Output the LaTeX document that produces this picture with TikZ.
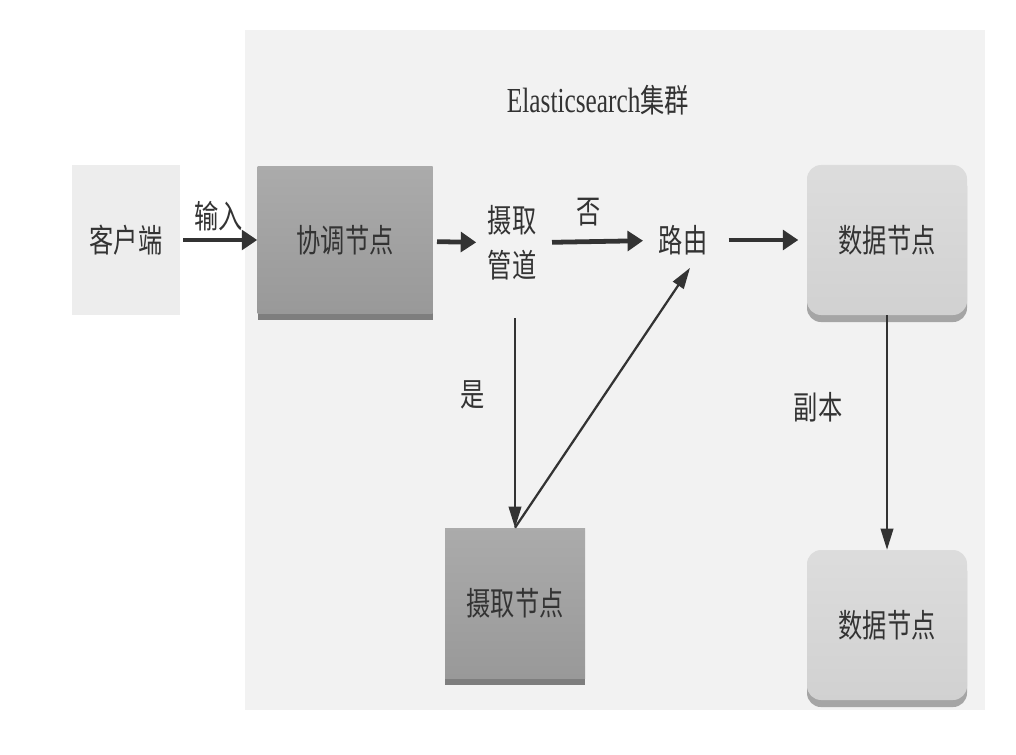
\documentclass[tikz,border=0pt]{standalone}
\usepackage{fontspec}
\setmainfont[FakeStretch=0.72]{Liberation Serif}
\newfontfamily\cjk[FakeStretch=0.75]{Noto Sans CJK SC}
\usetikzlibrary{arrows.meta,shadows}

\definecolor{clusterbg}{HTML}{F2F2F2}
\definecolor{clientbg}{HTML}{EDEDED}
\definecolor{txt}{HTML}{333333}

\tikzset{
    lbl/.style={font=\cjk\fontsize{23}{32}\selectfont, text=txt, inner sep=1pt},
    darkbox/.style={lbl, rectangle, top color=gray!66, bottom color=gray!80,
        drop shadow={shadow xshift=0pt, shadow yshift=-5pt, fill=black!75, opacity=0.65}},
    databox/.style={lbl, rectangle, rounded corners=10pt, top color=gray!27, bottom color=gray!36,
        drop shadow={shadow xshift=0pt, shadow yshift=-5pt, fill=black!60, opacity=0.55}},
    fat/.style={line width=3.4pt, txt, -{Triangle[length=11pt, width=14pt]}},
    thin/.style={line width=1.3pt, txt, -{Triangle[length=15pt, width=9pt]}}
}

\begin{document}
\begin{tikzpicture}[x=0.025cm, y=-0.025cm]
    \def \u {0.025cm}
    \useasboundingbox (0,0) rectangle (1016,754);
    \fill[white] (0,0) rectangle (1016,754);
    \fill[clusterbg] (245,30) rectangle (985,710);

    \node[lbl] (title) at (598,100) {\rmfamily\fontsize{25}{28}\selectfont Elasticsearch\cjk\fontsize{23}{28}\selectfont 集群};

    \node[lbl, fill=clientbg, minimum width=108*\u, minimum height=150*\u] (client) at (126,240) {客户端};
    \node[darkbox, minimum width=175*\u, minimum height=146*\u] (coord) at (345,240) {协调节点};
    \node[lbl, align=center] (pipe) at (512,243) {摄取\\管道};
    \node[lbl] (route) at (683,240) {路由};
    \node[databox, minimum width=160*\u, minimum height=150*\u] (data1) at (887,240) {数据节点};
    \node[darkbox, minimum width=140*\u, minimum height=150*\u] (ingest) at (515,603) {摄取节点};
    \node[databox, minimum width=160*\u, minimum height=150*\u] (data2) at (887,625) {数据节点};

    % main flow
    \draw[fat, shorten <=2pt] (client) -- node[lbl, above=4pt] {输入} (coord);
    \draw[fat, shorten <=3pt, shorten >=7pt] (coord) -- (pipe);
    \draw[fat, shorten <=10pt, shorten >=10pt] (pipe) -- node[lbl, above=8pt, xshift=-6pt] {否} (route);
    \draw[fat, shorten <=14pt, shorten >=6pt] (route) -- (data1);

    % ingest branch
    \draw[thin] (pipe.south) ++(3,36) coordinate (pipeout) -- node[lbl, left=20pt, yshift=20pt] {是} (ingest.north);
    \draw[thin, line width=1.6pt] (ingest.north) -- ([xshift=5pt, yshift=-8pt]route.south);

    % replica
    \draw[thin] (data1.south) -- node[lbl, left=30pt, yshift=18pt] {副本} (data2.north);
\end{tikzpicture}
\end{document}
